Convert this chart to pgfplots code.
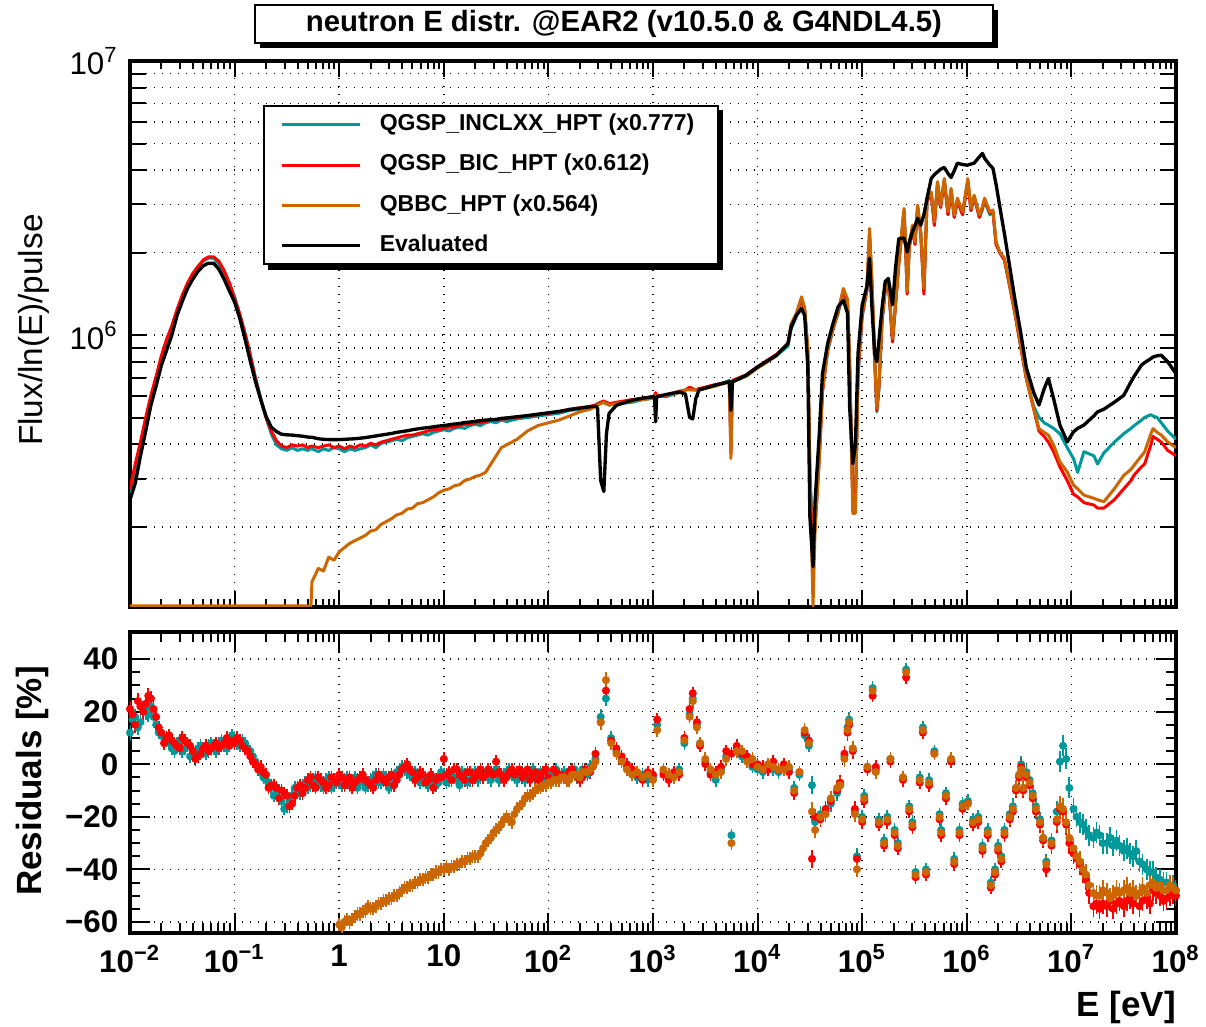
\documentclass[border=0pt]{standalone}
\usepackage{fontspec}
\setmainfont{Liberation Sans}
\usepackage{pgfplots}
\usepackage{pgfplotstable}
\pgfplotsset{compat=1.18}

\definecolor{rteal}{RGB}{0,153,153}
\definecolor{rred}{RGB}{255,0,0}
\definecolor{rorange}{RGB}{204,102,0}

% flux per ln(E) per pulse, read off the upper pad
\pgfplotstableread{
E eval teal red qbbc
1.000e-2 2.51e5 2.63e5 2.75e5 1.03e5
1.122e-2 2.88e5 3.31e5 3.39e5 1.03e5
1.259e-2 3.63e5 3.98e5 4.07e5 1.03e5
1.413e-2 4.47e5 4.90e5 5.01e5 1.03e5
1.585e-2 5.56e5 5.96e5 6.03e5 1.03e5
1.778e-2 6.53e5 6.92e5 7.08e5 1.03e5
1.995e-2 7.76e5 8.22e5 8.41e5 1.03e5
2.239e-2 8.81e5 9.55e5 9.66e5 1.03e5
2.512e-2 1.00e6 1.08e6 1.08e6 1.03e5
2.818e-2 1.18e6 1.23e6 1.24e6 1.03e5
3.162e-2 1.33e6 1.38e6 1.40e6 1.03e5
3.548e-2 1.48e6 1.53e6 1.55e6 1.03e5
3.981e-2 1.60e6 1.66e6 1.68e6 1.03e5
4.467e-2 1.71e6 1.78e6 1.78e6 1.03e5
5.012e-2 1.79e6 1.86e6 1.88e6 1.03e5
5.623e-2 1.83e6 1.91e6 1.93e6 1.03e5
6.310e-2 1.83e6 1.91e6 1.93e6 1.03e5
7.079e-2 1.74e6 1.82e6 1.86e6 1.03e5
7.943e-2 1.60e6 1.70e6 1.72e6 1.03e5
8.913e-2 1.45e6 1.55e6 1.55e6 1.03e5
1.000e-1 1.32e6 1.38e6 1.36e6 1.03e5
1.122e-1 1.15e6 1.19e6 1.19e6 1.03e5
1.259e-1 9.66e5 1.02e6 1.01e6 1.03e5
1.413e-1 8.04e5 8.51e5 8.41e5 1.03e5
1.585e-1 6.76e5 7.00e5 6.92e5 1.03e5
1.778e-1 5.82e5 5.89e5 5.82e5 1.03e5
1.995e-1 5.07e5 5.01e5 5.01e5 1.03e5
2.239e-1 4.62e5 4.37e5 4.47e5 1.03e5
2.512e-1 4.45e5 3.98e5 4.12e5 1.03e5
2.818e-1 4.35e5 3.85e5 3.94e5 1.03e5
3.162e-1 4.33e5 3.80e5 3.89e5 1.03e5
3.548e-1 4.32e5 3.89e5 3.98e5 1.03e5
3.981e-1 4.30e5 3.80e5 3.94e5 1.03e5
4.467e-1 4.28e5 3.85e5 3.98e5 1.03e5
5.012e-1 4.25e5 3.80e5 3.89e5 1.03e5
5.370e-1 4.24e5 3.85e5 3.94e5 1.03e5
5.495e-1 4.24e5 3.85e5 3.94e5 1.26e5
6.310e-1 4.19e5 3.76e5 3.89e5 1.41e5
7.079e-1 4.17e5 3.85e5 3.94e5 1.38e5
7.943e-1 4.16e5 3.80e5 3.98e5 1.55e5
8.913e-1 4.16e5 3.89e5 3.89e5 1.51e5
1 4.16e5 3.85e5 3.94e5 1.62e5
1.122 4.17e5 3.76e5 3.85e5 1.68e5
1.259 4.18e5 3.85e5 3.94e5 1.74e5
1.413 4.19e5 3.80e5 3.89e5 1.78e5
1.585 4.21e5 3.85e5 3.98e5 1.82e5
1.778 4.23e5 3.89e5 3.94e5 1.86e5
1.995 4.26e5 3.98e5 4.03e5 1.93e5
2.239 4.29e5 3.89e5 3.98e5 1.95e5
2.512 4.32e5 4.03e5 4.07e5 2.04e5
2.818 4.35e5 4.07e5 4.12e5 2.09e5
3.162 4.38e5 4.12e5 4.17e5 2.14e5
3.548 4.42e5 4.17e5 4.22e5 2.21e5
3.981 4.45e5 4.12e5 4.27e5 2.24e5
4.467 4.48e5 4.22e5 4.32e5 2.32e5
5.012 4.52e5 4.27e5 4.32e5 2.34e5
5.623 4.55e5 4.32e5 4.37e5 2.43e5
6.310 4.58e5 4.37e5 4.42e5 2.45e5
7.079 4.60e5 4.32e5 4.47e5 2.51e5
7.943 4.63e5 4.42e5 4.52e5 2.57e5
8.913 4.66e5 4.47e5 4.52e5 2.66e5
10 4.68e5 4.52e5 4.57e5 2.72e5
11.22 4.71e5 4.47e5 4.62e5 2.75e5
12.59 4.74e5 4.57e5 4.62e5 2.82e5
14.13 4.76e5 4.62e5 4.68e5 2.85e5
15.85 4.80e5 4.57e5 4.73e5 2.95e5
17.78 4.82e5 4.68e5 4.73e5 2.99e5
19.95 4.85e5 4.73e5 4.79e5 3.05e5
22.39 4.88e5 4.68e5 4.79e5 3.09e5
25.12 4.90e5 4.79e5 4.84e5 3.16e5
28.18 4.92e5 4.84e5 4.90e5 3.39e5
31.62 4.93e5 4.79e5 4.90e5 3.63e5
35.48 4.97e5 4.90e5 4.95e5 3.89e5
39.81 4.99e5 4.84e5 4.95e5 3.98e5
50.12 5.04e5 4.95e5 5.01e5 4.17e5
63.10 5.09e5 5.01e5 5.07e5 4.47e5
79.43 5.15e5 5.07e5 5.13e5 4.68e5
100 5.21e5 5.13e5 5.19e5 4.79e5
125.9 5.27e5 5.19e5 5.25e5 4.90e5
158.5 5.35e5 5.31e5 5.37e5 5.07e5
199.5 5.42e5 5.37e5 5.43e5 5.25e5
251.2 5.48e5 5.43e5 5.50e5 5.37e5
281.8 5.51e5 5.50e5 5.56e5 5.50e5
295.1 5.43e5 5.62e5 5.62e5 5.56e5
316.2 2.95e5 5.69e5 5.69e5 5.62e5
338.8 2.69e5 5.69e5 5.75e5 5.69e5
358.9 4.37e5 5.62e5 5.69e5 5.62e5
380.2 5.18e5 5.56e5 5.62e5 5.56e5
446.7 5.55e5 5.62e5 5.69e5 5.62e5
631.0 5.79e5 5.69e5 5.82e5 5.75e5
794.3 5.89e5 5.82e5 5.89e5 5.82e5
1000 5.96e5 5.89e5 5.96e5 5.89e5
1035 5.96e5 6.03e5 6.03e5 5.96e5
1059 4.83e5 6.10e5 6.17e5 6.03e5
1084 5.96e5 6.03e5 6.03e5 5.96e5
1318 6.07e5 5.96e5 6.03e5 6.03e5
1778 6.21e5 6.17e5 6.24e5 6.17e5
2042 6.10e5 6.31e5 6.31e5 6.31e5
2239 5.01e5 6.38e5 6.46e5 6.31e5
2399 4.95e5 6.31e5 6.38e5 6.31e5
2570 5.89e5 6.31e5 6.31e5 6.31e5
2754 6.31e5 6.38e5 6.38e5 6.31e5
3981 6.58e5 6.53e5 6.61e5 6.53e5
5370 6.76e5 6.84e5 6.76e5 6.76e5
5559 5.32e5 3.98e5 3.72e5 3.55e5
5754 6.76e5 6.76e5 6.84e5 6.76e5
7762 7.14e5 7.08e5 7.16e5 7.08e5
1.000e4 7.66e5 7.59e5 7.67e5 7.59e5
1.202e4 8.00e5 7.94e5 8.04e5 7.94e5
1.514e4 8.45e5 8.41e5 8.51e5 8.41e5
1.950e4 9.33e5 9.12e5 9.23e5 9.33e5
2.089e4 1.07e6 1.05e6 1.07e6 1.10e6
2.344e4 1.18e6 1.17e6 1.19e6 1.20e6
2.630e4 1.25e6 1.35e6 1.36e6 1.38e6
2.818e4 1.18e6 1.23e6 1.23e6 1.26e6
3.020e4 7.66e5 8.91e5 8.71e5 8.91e5
3.162e4 2.17e5 3.16e5 3.02e5 3.16e5
3.388e4 1.43e5 1.78e5 1.58e5 1.03e5
3.548e4 2.50e5 2.09e5 2.00e5 2.00e5
3.890e4 4.38e5 3.63e5 3.55e5 3.55e5
4.169e4 7.24e5 6.31e5 6.17e5 6.31e5
4.677e4 9.33e5 8.71e5 8.91e5 8.91e5
5.248e4 1.10e6 1.05e6 1.05e6 1.05e6
5.888e4 1.27e6 1.20e6 1.22e6 1.23e6
6.607e4 1.34e6 1.45e6 1.45e6 1.48e6
7.244e4 1.20e6 1.29e6 1.32e6 1.35e6
7.586e4 5.47e5 7.94e5 7.59e5 7.94e5
8.128e4 3.40e5 2.63e5 2.51e5 2.24e5
8.610e4 3.98e5 2.40e5 2.40e5 2.24e5
9.120e4 8.57e5 7.08e5 7.24e5 7.59e5
1.000e5 1.29e6 1.17e6 1.19e6 1.22e6
1.109e5 1.51e6 1.45e6 1.46e6 1.48e6
1.175e5 1.91e6 2.34e6 2.29e6 2.45e6
1.239e5 1.26e6 1.55e6 1.53e6 1.57e6
1.318e5 8.51e5 8.13e5 7.94e5 8.22e5
1.380e5 8.00e5 5.25e5 5.31e5 5.40e5
1.445e5 9.55e5 6.31e5 6.46e5 6.58e5
1.549e5 1.26e6 1.12e6 1.14e6 1.15e6
1.660e5 1.57e6 1.45e6 1.46e6 1.48e6
1.778e5 1.61e6 1.55e6 1.55e6 1.57e6
1.950e5 1.29e6 9.55e5 9.44e5 9.73e5
2.089e5 1.78e6 1.32e6 1.30e6 1.32e6
2.239e5 2.25e6 1.82e6 1.82e6 1.85e6
2.512e5 2.26e6 2.85e6 2.82e6 2.90e6
2.600e5 2.14e6 2.09e6 2.09e6 2.13e6
2.692e5 2.01e6 1.43e6 1.41e6 1.44e6
2.818e5 2.19e6 2.09e6 2.09e6 2.13e6
3.020e5 2.38e6 2.48e6 2.45e6 2.52e6
3.199e5 2.51e6 2.16e6 2.14e6 2.19e6
3.388e5 2.67e6 2.95e6 2.92e6 2.98e6
3.631e5 2.52e6 2.34e6 2.34e6 2.38e6
3.890e5 2.75e6 1.45e6 1.41e6 1.48e6
4.169e5 3.16e6 3.09e6 3.09e6 3.16e6
4.571e5 3.73e6 3.27e6 3.27e6 3.33e6
4.898e5 3.85e6 2.54e6 2.51e6 2.59e6
5.248e5 3.94e6 3.59e6 3.55e6 3.63e6
5.623e5 4.03e6 2.95e6 2.92e6 2.98e6
6.095e5 4.09e6 3.67e6 3.67e6 3.73e6
6.607e5 3.89e6 2.75e6 2.75e6 2.82e6
7.079e5 3.76e6 3.39e6 3.35e6 3.43e6
7.586e5 3.98e6 2.69e6 2.69e6 2.74e6
8.128e5 4.24e6 3.09e6 3.09e6 3.16e6
9.120e5 4.19e6 2.75e6 2.75e6 2.82e6
1.023e6 4.17e6 3.67e6 3.63e6 3.73e6
1.096e6 4.21e6 2.85e6 2.85e6 2.90e6
1.175e6 4.24e6 3.20e6 3.20e6 3.24e6
1.318e6 4.47e6 2.69e6 2.69e6 2.74e6
1.413e6 4.60e6 2.88e6 2.92e6 2.95e6
1.479e6 4.42e6 3.09e6 3.13e6 3.16e6
1.660e6 4.17e6 2.75e6 2.79e6 2.82e6
1.778e6 4.06e6 2.82e6 2.82e6 2.86e6
1.905e6 3.55e6 2.16e6 2.14e6 2.19e6
2.065e6 2.95e6 2.00e6 2.00e6 2.01e6
2.291e6 2.34e6 1.88e6 1.88e6 1.91e6
2.570e6 1.78e6 1.51e6 1.51e6 1.52e6
2.884e6 1.35e6 1.20e6 1.20e6 1.22e6
3.236e6 1.05e6 9.33e5 9.33e5 9.46e5
3.715e6 7.59e5 6.92e5 6.92e5 6.95e5
4.365e6 6.17e5 5.50e5 5.37e5 5.40e5
4.898e6 5.56e5 5.01e5 4.47e5 4.56e5
5.495e6 6.38e5 4.79e5 4.27e5 4.42e5
6.026e6 6.95e5 4.70e5 4.07e5 4.32e5
6.761e6 5.87e5 4.57e5 3.76e5 3.97e5
7.762e6 4.70e5 4.37e5 3.31e5 3.45e5
9.120e6 4.08e5 3.89e5 2.95e5 3.17e5
1.047e7 4.44e5 3.55e5 2.63e5 2.84e5
1.148e7 4.57e5 3.16e5 2.57e5 2.75e5
1.318e7 4.70e5 3.76e5 2.45e5 2.61e5
1.641e7 5.08e5 3.63e5 2.40e5 2.54e5
1.778e7 5.25e5 3.39e5 2.34e5 2.51e5
2.042e7 5.37e5 3.72e5 2.34e5 2.47e5
2.570e7 5.69e5 4.07e5 2.51e5 2.75e5
3.162e7 6.03e5 4.37e5 2.75e5 3.08e5
3.715e7 6.76e5 4.57e5 2.95e5 3.24e5
3.981e7 7.08e5 4.68e5 3.09e5 3.36e5
4.677e7 7.78e5 4.90e5 3.31e5 3.63e5
5.012e7 7.94e5 5.01e5 3.39e5 3.75e5
5.754e7 8.22e5 5.13e5 3.98e5 4.37e5
6.026e7 8.32e5 5.07e5 4.27e5 4.56e5
6.607e7 8.41e5 5.01e5 4.17e5 4.42e5
7.244e7 8.45e5 4.79e5 4.07e5 4.32e5
8.318e7 8.00e5 4.47e5 3.80e5 4.08e5
1.000e8 7.24e5 4.17e5 3.63e5 3.89e5
}\topdata

% residuals in percent, lower pad
\pgfplotstableread{
E teal red qbbc err
1.000e-2 12 21 nan 3
1.122e-2 18 15 nan 3
1.259e-2 16 22 nan 3
1.413e-2 20 23 nan 3
1.585e-2 22 25 nan 3
1.778e-2 15 18 nan 3
1.995e-2 11 12 nan 2.5
2.239e-2 9 10 nan 2.5
2.512e-2 6 9 nan 2.5
2.818e-2 8 7 nan 2.5
3.162e-2 5 10 nan 2.5
3.548e-2 7 8 nan 2.5
3.981e-2 4 5 nan 2.5
4.467e-2 6 3 nan 2.5
5.012e-2 5 6 nan 2.5
5.623e-2 7 5 nan 2.5
6.310e-2 6 7 nan 2.5
7.079e-2 8 6 nan 2.5
7.943e-2 7 8 nan 2.5
8.913e-2 9 7 nan 2.5
1.000e-1 10 8 nan 2.5
1.122e-1 7 9 nan 2.5
1.259e-1 8 6 nan 2.5
1.413e-1 5 3 nan 2.5
1.585e-1 1 0 nan 2.5
1.778e-1 -3 -1 nan 2.5
1.995e-1 -6 -4 nan 2.5
2.239e-1 -9 -8 nan 2.5
2.512e-1 -11 -9 nan 2.5
2.818e-1 -14 -10 nan 2.5
3.162e-1 -16 -12 nan 2.5
3.548e-1 -12 -15 nan 2.5
3.981e-1 -10 -9 nan 2.5
4.467e-1 -8 -11 nan 2.5
5.012e-1 -9 -6 nan 2.5
5.623e-1 -6 -8 nan 2.5
6.310e-1 -7 -5 nan 2.5
7.079e-1 -9 -7 nan 2.5
7.943e-1 -5 -8 nan 2.5
8.913e-1 -8 -6 nan 2.5
1 -7 -4 -61 2.5
1.122 -6 -8 -60 2.5
1.259 -8 -5 -60 2.5
1.413 -5 -7 -58 2.5
1.585 -7 -5 -57 2.5
1.778 -9 -6 -56 2.5
1.995 -6 -8 -55 2.5
2.239 -4 -6 -54 2.5
2.512 -7 -5 -53 2.5
2.818 -5 -7 -52 2.5
3.162 -8 -4 -51 2.5
3.548 -3 -6 -50 2.5
3.981 -1 -2 -48 2.5
4.467 -3 0 -47 2.5
5.012 -5 -3 -46 2.5
5.623 -4 -5 -45 2.5
6.310 -6 -4 -44 2.5
7.079 -8 -6 -43 2.5
7.943 -5 -9 -42 2.5
8.913 -7 -5 -41 2.5
10 -4 2 -40 2.5
11.22 -6 -3 -40 2.5
12.59 -5 -2 -39 2.5
14.13 -8 -4 -38 2.5
15.85 -4 -6 -37 2.5
17.78 -6 -3 -36 2.5
19.95 -3 -5 -35 2.5
22.39 -5 -2 -34 2.5
25.12 -4 -4 -30 2.5
28.18 -6 -3 -28 2.5
31.62 -2 1 -25 2.5
35.48 -5 -4 -23 2.5
39.81 -3 -5 -20 2.5
44.67 -4 -2 -22 2.5
50.12 -6 -3 -17 2.5
56.23 -3 -5 -15 2.5
63.10 -5 -2 -12 2.5
70.79 -2 -4 -11 2.5
79.43 -4 -6 -9 2.5
89.13 -7 -3 -8 2.5
100 -3 -5 -7 2.5
112.2 -4 -2 -6 2.5
125.9 -6 -4 -6 2.5
141.3 -3 -5 -5 2.5
158.5 -5 -3 -6 2.5
177.8 -2 -4 -4 2.5
199.5 -4 -6 -5 2.5
223.9 -3 -2 -3 2.5
251.2 -1 -3 -2 2.5
281.8 2 4 1 2.5
316.2 18 16 16 3
354.8 25 28 32 3
398.1 10 9 8 2.5
446.7 5 6 4 2.5
501.2 2 3 1 2.5
562.3 -1 0 -2 2.5
631.0 -3 -2 -4 2.5
707.9 -5 -4 -3 2.5
794.3 -4 -6 -5 2.5
891.3 -6 -3 -4 2.5
1000 -5 -4 -6 2.5
1096 15 17 13 2.5
1259 -3 -4 -2 2.5
1413 -5 -6 -4 2.5
1585 -4 -3 -5 2.5
1778 -2 -4 -3 2.5
1995 8 10 9 2.5
2239 19 21 18 2.5
2399 25 27 24 2.5
2630 15 16 14 2.5
2818 8 7 8 2.5
3162 1 0 2 2.5
3548 -3 -4 -2 2.5
3981 -6 -3 -4 2.5
4467 -2 -1 -3 2.5
5012 3 5 2 2.5
5623 -27 4 -30 2.5
6310 6 7 5 2.5
7079 3 4 5 2.5
7943 2 3 1 2.5
8913 -1 0 2 2.5
1.000e4 -2 0 -1 2.5
1.122e4 -3 -1 -2 2.5
1.259e4 -1 -2 0 2.5
1.413e4 -2 1 -1 2.5
1.585e4 -3 -2 -2 2.5
1.778e4 -1 0 -2 2.5
1.995e4 -2 -3 -1 2.5
2.239e4 -9 -11 -10 2.5
2.512e4 -4 -3 -3 2.5
2.818e4 11 12 13 2.5
3.090e4 7 9 8 2.5
3.311e4 -8 -36 -18 3.5
3.548e4 -22 -20 -25 3
3.981e4 -19 -21 -20 3
4.467e4 -18 -17 -19 3
5.012e4 -15 -14 -13 3
5.754e4 -11 -10 -9 3
6.166e4 -8 -7 -8 3
6.761e4 3 4 2 3
7.244e4 14 12 13 3
7.499e4 17 15 16 3
8.128e4 6 5 6 3
8.511e4 -18 -17 -19 3
8.913e4 -35 -36 -40 3
1.000e5 -20 -22 -21 2.5
1.047e5 -12 -14 -13 2.5
1.122e5 -1 -2 -1 2.5
1.259e5 29 26 28 2.5
1.349e5 -2 -1 -3 2.5
1.445e5 -21 -23 -22 2.5
1.622e5 -29 -31 -30 2.5
1.738e5 -20 -22 -21 2.5
1.862e5 2 1 2 2.5
2.042e5 -25 -27 -26 2.5
2.188e5 -30 -32 -31 2.5
2.455e5 -5 -6 -5 2.5
2.630e5 36 33 35 2.5
2.818e5 -16 -18 -17 2.5
3.020e5 -22 -24 -23 2.5
3.236e5 -41 -43 -42 2.5
3.548e5 -5 -7 -6 2.5
3.802e5 14 12 13 2.5
4.074e5 -40 -42 -41 2.5
4.365e5 -6 -8 -7 2.5
4.898e5 5 4 4 2.5
5.495e5 -19 -21 -20 2.5
5.689e5 -25 -27 -26 2.5
6.310e5 -11 -13 -12 2.5
7.079e5 2 1 2 2.5
7.586e5 -36 -38 -37 2.5
8.511e5 -25 -27 -26 2.5
9.120e5 -15 -17 -16 2.5
1.023e6 -14 -15 -15 2.5
1.148e6 -21 -23 -22 2.5
1.288e6 -20 -22 -21 2.5
1.413e6 -31 -33 -32 2.5
1.585e6 -25 -27 -26 2.5
1.698e6 -45 -47 -46 2.5
1.862e6 -40 -42 -41 2.5
1.995e6 -31 -33 -32 2.5
2.138e6 -35 -37 -36 2.5
2.291e6 -25 -27 -26 2.5
2.570e6 -19 -21 -20 3
2.754e6 -16 -18 -17 3
2.951e6 -9 -10 -9 3
3.162e6 -4 -5 -4 3
3.311e6 0 -1 -2 3
3.467e6 -9 -10 -9 3
3.715e6 -3 -5 -4 3
3.981e6 -6 -8 -7 3
4.266e6 -11 -13 -12 3
4.571e6 -16 -18 -17 3
5.012e6 -21 -23 -22 3
5.370e6 -28 -29 -28 3
5.754e6 -37 -40 -38 3
6.457e6 -29 -31 -30 3
7.244e6 -18 -22 -21 4
7.762e6 1 -17 -16 4
8.318e6 7 -18 -17 4
8.913e6 2 -23 -22 4
9.550e6 -9 -30 -28 4
1.047e7 -17 -34 -32 4
1.122e7 -20 -36 -35 4
1.202e7 -22 -38 -37 4
1.288e7 -23 -41 -40 4
1.380e7 -25 -44 -42 4
1.479e7 -27 -49 -46 4
1.622e7 -28 -54 -49 4
1.738e7 -26 -53 -50 4
1.862e7 -27 -55 -50 4
1.995e7 -30 -53 -48 4
2.188e7 -30 -54 -49 4
2.344e7 -28 -52 -51 4
2.512e7 -31 -55 -50 4
2.692e7 -29 -53 -48 4
2.884e7 -31 -52 -49 4
3.162e7 -33 -54 -48 4
3.388e7 -32 -52 -47 4
3.631e7 -34 -51 -49 4
3.890e7 -35 -53 -48 4
4.169e7 -33 -50 -50 4
4.467e7 -37 -54 -49 4
4.786e7 -38 -52 -47 4
5.248e7 -40 -51 -49 4
5.623e7 -41 -53 -46 4
6.026e7 -41 -48 -45 4
6.457e7 -43 -49 -47 4
7.079e7 -44 -50 -46 4
7.586e7 -45 -52 -48 4
8.128e7 -45 -51 -48 4
8.710e7 -47 -50 -46 4
9.333e7 -46 -49 -47 4
1.000e8 -48 -50 -48 4
1.059e-2 17 19 nan 3
1.189e-2 14 24 nan 3
1.334e-2 21 20 nan 3
1.496e-2 19 26 nan 3
1.679e-2 18 21 nan 3
1.884e-2 12 14 nan 2.5
2.113e-2 10 8 nan 2.5
2.371e-2 8 11 nan 2.5
2.661e-2 5 8 nan 2.5
2.985e-2 9 6 nan 2.5
3.350e-2 6 9 nan 2.5
3.758e-2 3 7 nan 2.5
4.217e-2 5 2 nan 2.5
4.732e-2 7 4 nan 2.5
5.309e-2 4 7 nan 2.5
5.957e-2 8 6 nan 2.5
6.683e-2 5 8 nan 2.5
7.499e-2 9 7 nan 2.5
8.414e-2 6 10 nan 2.5
9.441e-2 11 9 nan 2.5
1.059e-1 8 10 nan 2.5
1.189e-1 9 7 nan 2.5
1.334e-1 6 5 nan 2.5
1.496e-1 3 1 nan 2.5
1.679e-1 -1 -2 nan 2.5
1.884e-1 -5 -3 nan 2.5
2.113e-1 -7 -9 nan 2.5
2.371e-1 -12 -8 nan 2.5
2.661e-1 -10 -13 nan 2.5
2.985e-1 -17 -11 nan 2.5
3.350e-1 -13 -16 nan 2.5
3.758e-1 -9 -12 nan 2.5
4.217e-1 -11 -8 nan 2.5
4.732e-1 -7 -9 nan 2.5
5.309e-1 -8 -5 nan 2.5
5.957e-1 -5 -9 nan 2.5
6.683e-1 -8 -6 nan 2.5
7.499e-1 -6 -9 nan 2.5
8.414e-1 -9 -5 nan 2.5
9.441e-1 -6 -7 nan 2.5
1.059 -8 -5 -62 2.5
1.189 -5 -7 -59 2.5
1.334 -7 -9 -59 2.5
1.496 -9 -6 -57 2.5
1.679 -6 -4 -56 2.5
1.884 -8 -7 -54 2.5
2.113 -5 -9 -55 2.5
2.371 -7 -4 -53 2.5
2.661 -4 -6 -52 2.5
2.985 -9 -5 -51 2.5
3.350 -6 -8 -50 2.5
3.758 -2 -4 -49 2.5
4.217 -2 -1 -47 2.5
4.732 -4 -2 -46 2.5
5.309 -3 -6 -45 2.5
5.957 -7 -3 -44 2.5
6.683 -5 -7 -43 2.5
7.499 -6 -4 -42 2.5
8.414 -8 -6 -41 2.5
9.441 -3 -5 -40 2.5
10.59 -7 -4 -39 2.5
11.89 -4 -6 -39 2.5
13.34 -6 -2 -38 2.5
14.96 -3 -5 -37 2.5
16.79 -7 -3 -36 2.5
18.84 -4 -6 -35 2.5
21.13 -6 -3 -35 2.5
23.71 -3 -5 -32 2.5
26.61 -5 -2 -29 2.5
29.85 -3 -4 -26 2.5
33.50 -6 -3 -24 2.5
37.58 -4 -6 -21 2.5
42.17 -2 -3 -21 2.5
47.32 -5 -4 -19 2.5
53.09 -4 -2 -16 2.5
59.57 -6 -4 -13 2.5
66.83 -3 -6 -12 2.5
74.99 -5 -3 -10 2.5
84.14 -3 -5 -9 2.5
94.41 -6 -2 -8 2.5
105.9 -4 -6 -7 2.5
118.9 -2 -3 -6 2.5
133.4 -5 -4 -5 2.5
149.6 -4 -6 -6 2.5
167.9 -3 -2 -4 2.5
188.4 -5 -4 -4 2.5
211.3 -2 -5 -3 2.5
237.1 -4 -3 -3 2.5
266.1 0 -1 -1 2.5
}\resdata

\begin{document}
\begin{tikzpicture}
\path[use as bounding box] (0,0) rectangle (361.8pt,308.1pt);

% title box
\fill[black] (78pt,293.7pt) rectangle (299.4pt,305.1pt);
\draw[fill=white, line width=0.6pt] (76.5pt,295.2pt) rectangle (297.9pt,306.6pt);
\node[font=\bfseries\fontsize{8.8}{10}\selectfont] at (187.2pt,300.9pt)
  {neutron E distr. @EAR2 (v10.5.0 \& G4NDL4.5)};

\begin{axis}[
  xmode=log, ymode=log,
  scale only axis, width=313.8pt, height=163.8pt,
  at={(39pt,126pt)}, anchor=south west,
  xmin=1e-2, xmax=1e8, ymin=1.02e5, ymax=1e7,
  xtick={1e-2,1e-1,1,10,100,1e3,1e4,1e5,1e6,1e7,1e8},
  xticklabels={},
  ytick={1e6,1e7}, yticklabels={10\textsuperscript{6},10\textsuperscript{7}},
  yminorticks=false,
  extra y ticks={2e5,3e5,4e5,5e5,6e5,7e5,8e5,9e5,2e6,3e6,4e6,5e6,6e6,7e6,8e6,9e6},
  extra y tick labels={},
  extra y tick style={grid=major},
  axis line style={line width=1.2pt},
  tick style={black, line width=0.6pt},
  tick align=inside,
  major tick length=4.8pt, minor tick length=2.5pt,
  grid style={dotted, black, line width=0.5pt},
  xmajorgrids, ymajorgrids,
  yticklabel style={font=\fontsize{9.4}{11}\selectfont},
  ylabel={Flux/ln(E)/pulse},
  every axis y label/.style={at={(axis description cs:-0.092,0.507)}, rotate=90,
    anchor=center, font=\fontsize{10}{12}\selectfont},
  legend style={at={(0.127,0.919)}, anchor=north west,
    font=\bfseries\fontsize{6.9}{8}\selectfont, draw=black, line width=0.6pt,
    fill=white, inner xsep=5pt, inner ysep=0.3pt, row sep=1.6pt,
    column sep=3.4pt, cells={anchor=west}},
  legend image code/.code={\draw[#1] (0pt,0pt) -- (23.4pt,0pt);},
]
\addplot[rteal, line width=0.9pt, line join=round] table[x=E, y=teal]{\topdata};
\addlegendentry{QGSP\_INCLXX\_HPT (x0.777)}
\addplot[rred, line width=0.9pt, line join=round] table[x=E, y=red]{\topdata};
\addlegendentry{QGSP\_BIC\_HPT (x0.612)}
\addplot[rorange, line width=0.9pt, line join=round] table[x=E, y=qbbc]{\topdata};
\addlegendentry{QBBC\_HPT (x0.564)}
\addplot[black, line width=1pt, line join=round] table[x=E, y=eval]{\topdata};
\addlegendentry{Evaluated}
% shadow of the legend box
\fill[black] (axis description cs:0.1319,0.6172) rectangle (axis description cs:0.5669,0.9103);
\end{axis}

\begin{axis}[
  xmode=log,
  scale only axis, width=313.8pt, height=90.3pt,
  at={(39pt,28.2pt)}, anchor=south west,
  xmin=1e-2, xmax=1e8, ymin=-64.2, ymax=50.3,
  xtick={1e-2,1e-1,1,10,100,1e3,1e4,1e5,1e6,1e7,1e8},
  xticklabels={10\textsuperscript{−2},10\textsuperscript{−1},1,10,10\textsuperscript{2},10\textsuperscript{3},10\textsuperscript{4},10\textsuperscript{5},10\textsuperscript{6},10\textsuperscript{7},10\textsuperscript{8}},
  ytick={-60,-40,-20,0,20,40},
  yticklabels={−60,−40,−20,0,20,40},
  minor y tick num=3,
  axis line style={line width=1.2pt},
  tick style={black, line width=0.6pt},
  tick align=inside,
  major tick length=6pt, minor tick length=3pt,
  grid style={dotted, black, line width=0.5pt},
  xmajorgrids, ymajorgrids,
  tick label style={font=\bfseries\fontsize{9.4}{11}\selectfont},
  ylabel={Residuals [\%]},
  every axis y label/.style={at={(axis description cs:-0.093,0.505)}, rotate=90,
    anchor=center, font=\bfseries\fontsize{10.5}{12}\selectfont},
  xlabel={E [eV]},
  every axis x label/.style={at={(axis description cs:1,-0.246)}, anchor=east,
    xshift=3.5pt, font=\bfseries\fontsize{10.5}{12}\selectfont},
]
\addplot[only marks, mark=*, mark size=1pt, color=rteal,
  error bars/.cd, y dir=both, y explicit,
  error mark=none, error bar style={line width=0.5pt}]
  table[x=E, y=teal, y error=err]{\resdata};
\addplot[only marks, mark=*, mark size=1pt, color=rred,
  error bars/.cd, y dir=both, y explicit,
  error mark=none, error bar style={line width=0.5pt}]
  table[x=E, y=red, y error=err]{\resdata};
\addplot[only marks, mark=*, mark size=1pt, color=rorange,
  error bars/.cd, y dir=both, y explicit,
  error mark=none, error bar style={line width=0.5pt}]
  table[x=E, y=qbbc, y error=err]{\resdata};
\end{axis}
\end{tikzpicture}
\end{document}
